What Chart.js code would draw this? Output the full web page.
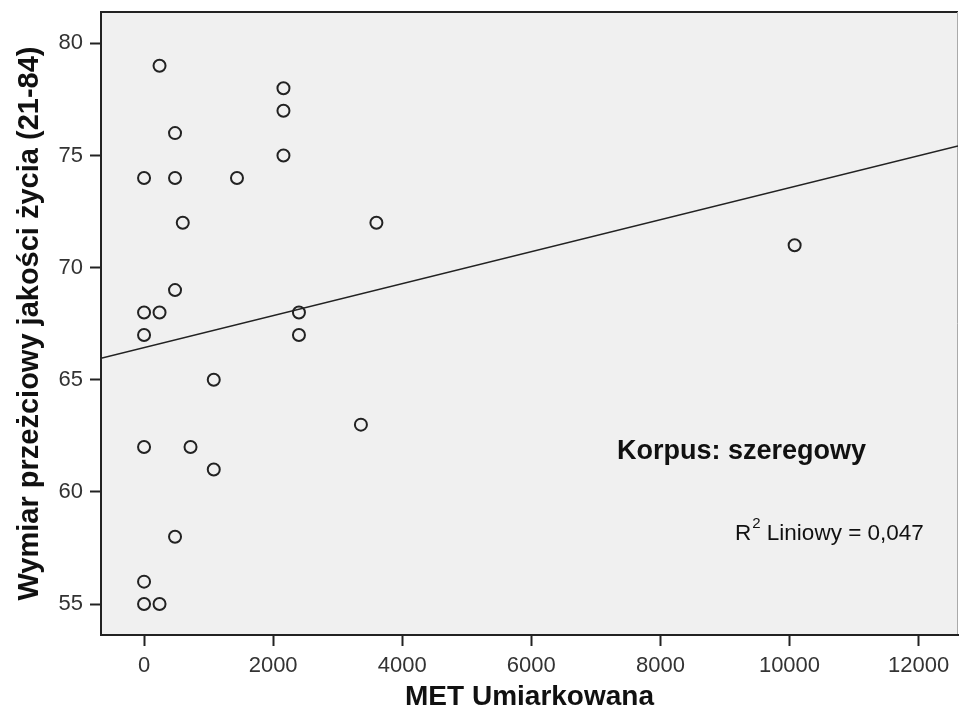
<!DOCTYPE html>
<html lang="pl">
<head>
    <meta charset="UTF-8">
    <title>MET Umiarkowana - Korpus: szeregowy</title>
    <script src="https://cdn.jsdelivr.net/npm/chart.js"></script>
    <style>
        html, body { margin: 0; padding: 0; background: #fff; overflow: hidden; }
        canvas { display: block; }
    </style>
</head>
<body>
    <canvas id="scatter" width="959" height="726"></canvas>

    <script>
        // values
        const metX = [240, 2160, 2160, 480, 0, 480, 1440, 2160, 600, 3600, 480, 0, 240, 2400, 0, 2400,
                      1080, 3360, 0, 720, 1080, 480, 0, 0, 240, 10080];
        const qolY = [79, 78, 77, 76, 74, 74, 74, 75, 72, 72, 69, 68, 68, 68, 67, 67,
                      65, 63, 62, 62, 61, 58, 56, 55, 55, 71];
        // fit line ends (at the axis limits)
        const fitX = [-667, 12611];
        const fitY = [65.96, 75.43];
        const xTicks = [0, 2000, 4000, 6000, 8000, 10000, 12000];
        const yTicks = [55, 60, 65, 70, 75, 80];
        const groupLabel = 'Korpus: szeregowy';
        const r2Text = 'Liniowy = 0,047';

        const pts = metX.map((x, i) => ({ x: x, y: qolY[i] }));
        const fitPts = fitX.map((x, i) => ({ x: x, y: fitY[i] }));

        const FONT = '"Liberation Sans", Arial, sans-serif';

        // grey plot background + frame
        const plotBg = {
            id: 'plotBg',
            beforeDraw(chart) {
                const { ctx, chartArea: a } = chart;
                ctx.save();
                ctx.fillStyle = '#f0f0f0';
                ctx.fillRect(a.left, a.top, a.right - a.left, a.bottom - a.top);
                ctx.strokeStyle = '#222';
                ctx.lineWidth = 2;
                ctx.beginPath();
                ctx.moveTo(a.left, a.top);
                ctx.lineTo(a.right, a.top);
                ctx.stroke();
                ctx.strokeStyle = '#aaa';
                ctx.lineWidth = 1;
                ctx.beginPath();
                ctx.moveTo(a.right - 0.5, a.top);
                ctx.lineTo(a.right - 0.5, a.bottom);
                ctx.stroke();
                ctx.restore();
            }
        };

        // in-plot texts
        const notes = {
            id: 'notes',
            afterDraw(chart) {
                const ctx = chart.ctx;
                ctx.save();
                ctx.fillStyle = '#111';
                ctx.textBaseline = 'middle';
                ctx.textAlign = 'left';
                ctx.font = 'bold 27px ' + FONT;
                ctx.fillText(groupLabel, 617, 452);

                let x = 735;
                ctx.font = '22.5px ' + FONT;
                ctx.fillText('R', x, 534);
                x += ctx.measureText('R').width;
                ctx.font = '15px ' + FONT;
                ctx.fillText('2', x + 1, 524);
                x += ctx.measureText('2').width + 1;
                ctx.font = '22.5px ' + FONT;
                ctx.fillText(' ' + r2Text, x, 534);
                ctx.restore();
            }
        };

        const tickFont = { family: FONT, size: 22 };

        new Chart(document.getElementById('scatter'), {
            type: 'scatter',
            data: {
                datasets: [{
                    data: pts,
                    pointRadius: 6,
                    pointHoverRadius: 6,
                    borderWidth: 2,
                    borderColor: '#222',
                    backgroundColor: 'rgba(0,0,0,0)'
                }, {
                    type: 'line',
                    data: fitPts,
                    showLine: true,
                    pointRadius: 0,
                    borderWidth: 1.5,
                    borderColor: '#222',
                    fill: false
                }]
            },
            options: {
                responsive: false,
                animation: false,
                events: [],
                layout: { autoPadding: false, padding: { top: 12, right: 1, left: 0, bottom: 0 } },
                plugins: { legend: { display: false }, tooltip: { enabled: false } },
                scales: {
                    x: {
                        type: 'linear',
                        min: -667,
                        max: 12611,
                        afterFit(s) { s.height = 91; s.paddingLeft = 0; s.paddingRight = 0; },
                        afterBuildTicks(s) { s.ticks = xTicks.map(v => ({ value: v })); },
                        ticks: { font: tickFont, color: '#333', padding: 7, includeBounds: false, callback: v => String(v) },
                        grid: { drawOnChartArea: false, drawTicks: true, tickLength: 11, tickColor: '#222', tickWidth: 2 },
                        border: { display: true, color: '#222', width: 2 },
                        title: {
                            display: true,
                            text: 'MET Umiarkowana',
                            color: '#111',
                            font: { family: FONT, size: 28, weight: 'bold' },
                            padding: { top: 0, bottom: 12 }
                        }
                    },
                    y: {
                        min: 53.62,
                        max: 81.4,
                        afterFit(s) { s.width = 101; s.paddingTop = 0; s.paddingBottom = 0; },
                        afterBuildTicks(s) { s.ticks = yTicks.map(v => ({ value: v })); },
                        ticks: { font: tickFont, color: '#333', padding: 7, includeBounds: false, callback: v => String(v) },
                        grid: { drawOnChartArea: false, drawTicks: true, tickLength: 11, tickColor: '#222', tickWidth: 2 },
                        border: { display: true, color: '#222', width: 2 },
                        title: {
                            display: true,
                            text: 'Wymiar przeżciowy jakości życia (21-84)',
                            color: '#111',
                            font: { family: FONT, size: 29, weight: 'bold' },
                            padding: { top: 13, bottom: 0 }
                        }
                    }
                }
            },
            plugins: [plotBg, notes]
        });
    </script>
</body>
</html>
